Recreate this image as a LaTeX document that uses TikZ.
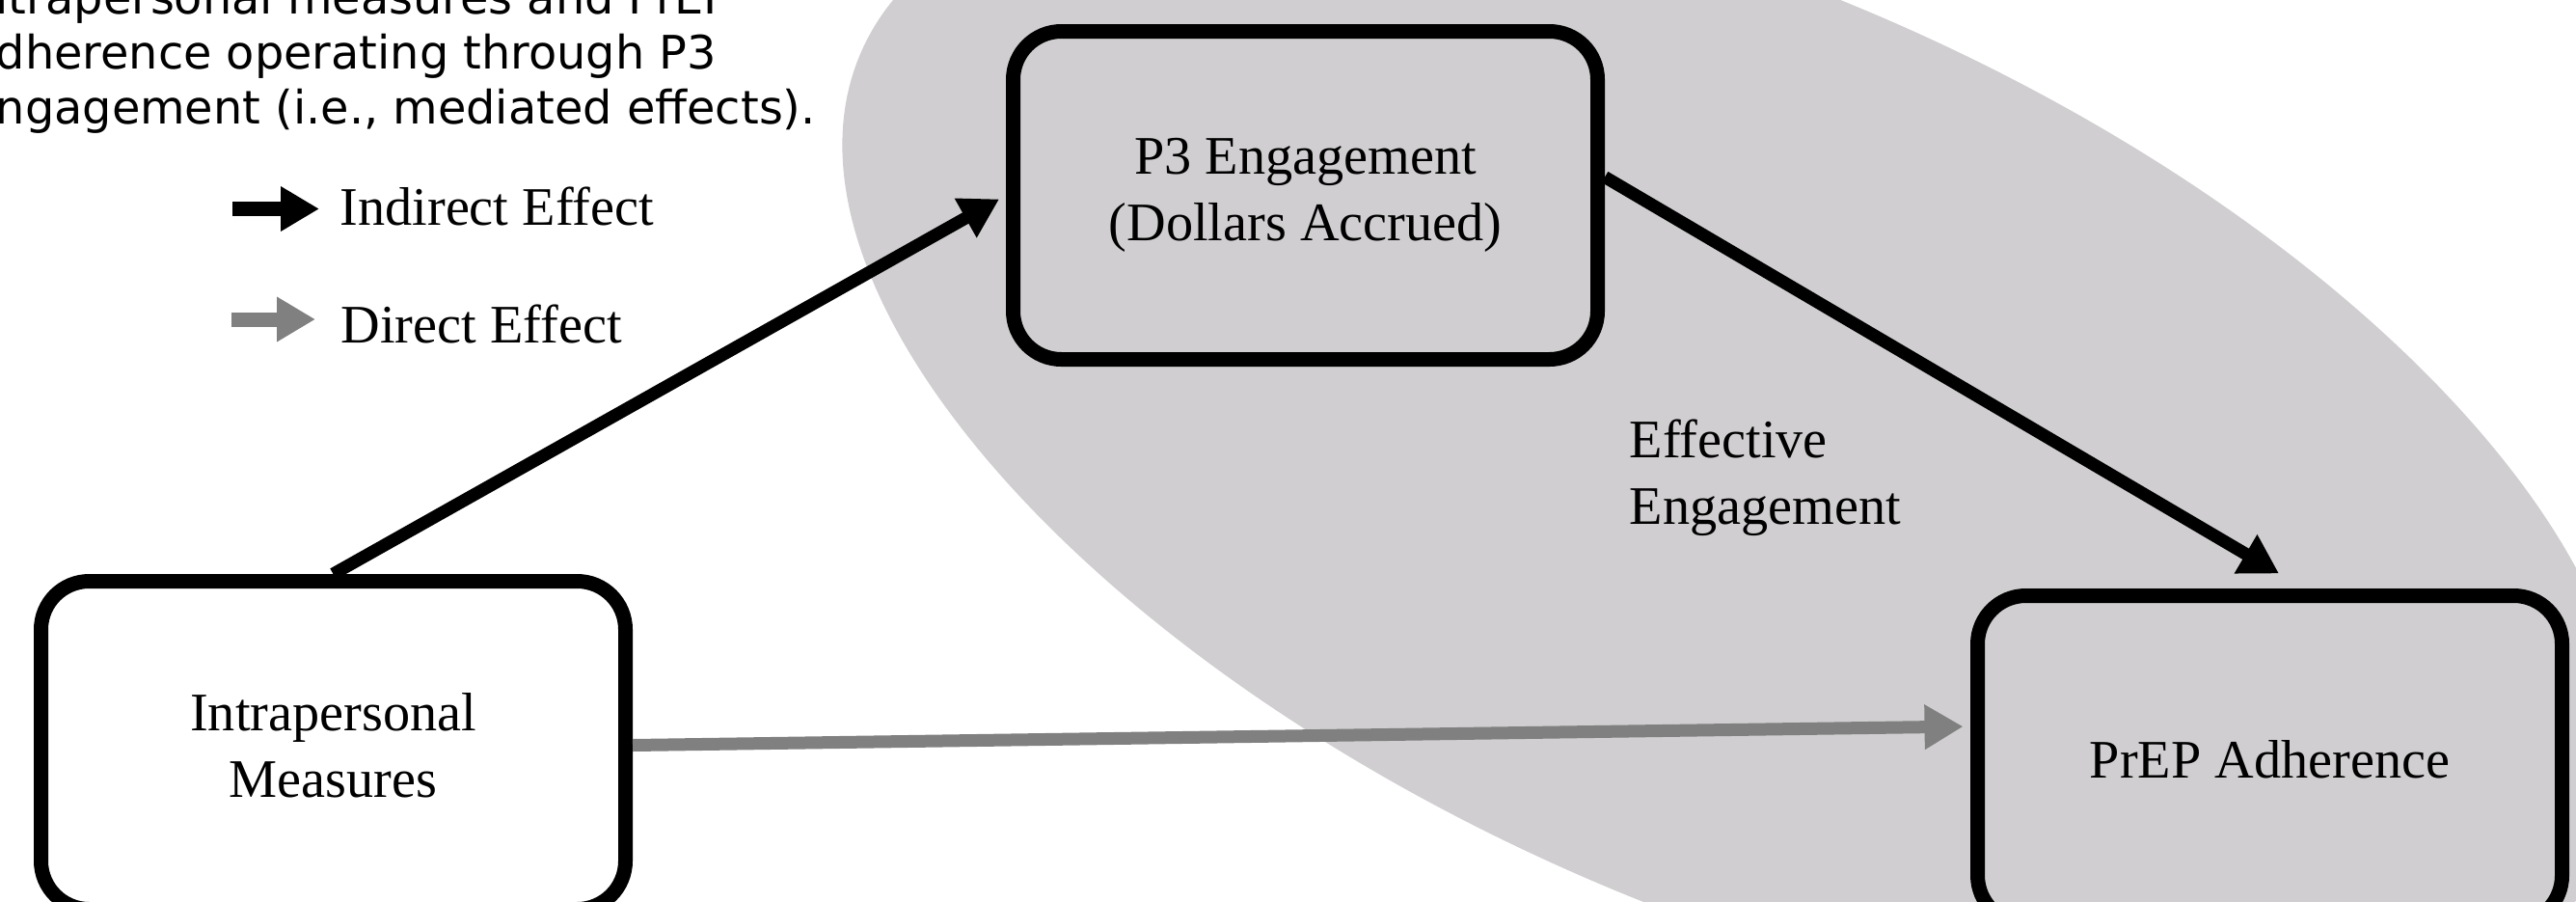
\documentclass[tikz,border=0pt]{standalone}
\usepackage{fontspec}
\setmainfont{Liberation Serif}
\newfontfamily\notefont{DejaVu Sans}
\usepackage{tikz}
\usetikzlibrary{arrows.meta, calc}
\definecolor{ovalgray}{RGB}{208,206,208}
\definecolor{arrowgray}{RGB}{128,128,128}
\newcommand{\labfont}{\fontsize{16}{19.5}\selectfont}
\tikzset{
  varbox/.style={draw, line width=0.15cm, rounded corners=0.5cm,
    minimum width=6.06cm, minimum height=3.4cm, align=center, font=\labfont},
  indirect/.style={line width=0.13cm, -{Triangle[length=0.4cm, width=0.44cm]}},
  direct/.style={indirect, draw=arrowgray, fill=arrowgray},
}

\begin{document}
\begin{tikzpicture}
\useasboundingbox (0,0) rectangle (26.71,9.34);
\clip (0,0) rectangle (26.71,9.34);
\fill[ovalgray, rotate around={-24.6:(18,4.69)}] (18,4.69) ellipse [x radius=9.96, y radius=4.70];

\node[anchor=north west, inner sep=0, align=left,
  font=\notefont\fontsize{13.6}{16.3}\selectfont] (note) at (-0.05,9.57)
  {itrapersonal measures and PrEP\\dherence operating through P3\\ngagement (i.e., mediated effects).};

% legend
\coordinate (ind0) at (2.41,7.175);
\coordinate (ind1) at (3.31,7.175);
\coordinate (dir0) at (2.40,6.03);
\coordinate (dir1) at (3.27,6.03);
\draw[indirect, line width=0.15cm] (ind0) -- (ind1);
\draw[direct, line width=0.15cm] (dir0) -- (dir1);
\node[anchor=base west, inner sep=0, font=\labfont] (indlab) at (3.52,7.01) {Indirect Effect};
\node[anchor=base west, inner sep=0, font=\labfont] (dirlab) at (3.53,5.79) {Direct Effect};

\node[varbox, fill=white] (intra) at (3.455,1.615) {Intrapersonal\\Measures};
\node[varbox] (p3) at (13.535,7.315) {P3 Engagement\\(Dollars Accrued)};
\node[varbox] (prep) at (23.535,1.465) {PrEP Adherence};
\node[anchor=north west, inner sep=0, align=left, font=\labfont] (eff) at (16.89,4.994)
  {Effective\\Engagement};

\draw[indirect, shorten >=0.08cm] (intra.north) -- (p3.west);
\draw[indirect] ([yshift=0.19cm]p3.east) -- ([shift={(0.095,0.155)}]prep.north);
\draw[direct, shorten >=0.075cm] (intra.east) -- ([yshift=0.345cm]prep.west);
\end{tikzpicture}
\end{document}
